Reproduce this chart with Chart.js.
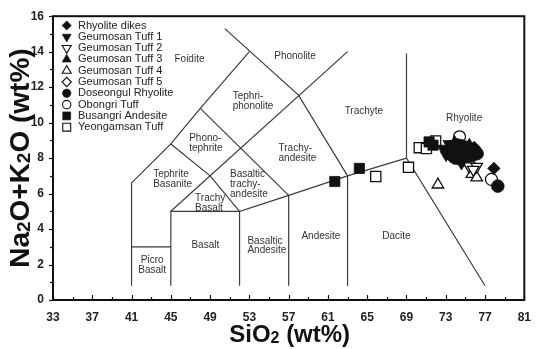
<!DOCTYPE html>
<html>
<head>
<meta charset="utf-8">
<script src="https://cdn.jsdelivr.net/npm/chart.js@4.4.1/dist/chart.umd.min.js"></script>
<style>
  html, body { margin: 0; padding: 0; background: #fff; }
  #wrap { width: 541px; height: 349px; }
</style>
</head>
<body>
<div id="wrap"><canvas id="tas" width="541" height="349"></canvas></div>
<script>
// ---- axis ticks ----
const xTickValues = [33, 37, 41, 45, 49, 53, 57, 61, 65, 69, 73, 77, 81];
const yTickValues = [0, 2, 4, 6, 8, 10, 12, 14, 16];

// ---- TAS field boundaries: [SiO2, Na2O+K2O] ----
const boundaryFoidite      = [[41, 0.8], [41, 6.6], [45, 8.8], [48, 10.8], [53, 14]];
const boundaryTephrite     = [[45, 8.8], [49, 7], [52, 5]];
const boundaryPhonotephrite = [[48, 10.8], [57, 5.9]];
const boundaryTrachybasalt = [[45, 5], [63, 14]];
const boundaryPhonolite    = [[50.5, 15.3], [58, 11.55], [63, 7]];
const boundaryPicrobasalt  = [[41, 3], [45, 3]];
const boundaryBasalt       = [[45, 0.8], [45, 5], [52, 5]];
const boundarySubalkaline  = [[52, 0.8], [52, 5], [57, 5.9], [63, 7], [69, 8]];
const boundaryAndesite     = [[57, 0.8], [57, 5.9]];
const boundaryDacite       = [[63, 0.8], [63, 7]];
const boundaryRhyolite     = [[69, 13.9], [69, 8], [77, 0.8]];

const boundaries = [
  boundaryFoidite, boundaryTephrite, boundaryPhonotephrite, boundaryTrachybasalt,
  boundaryPhonolite, boundaryPicrobasalt, boundaryBasalt, boundarySubalkaline,
  boundaryAndesite, boundaryDacite, boundaryRhyolite
];

// ---- field names: [text, SiO2, Na2O+K2O] ----
const fieldLabels = [
  ['Foidite', 45.37, 13.55],
  ['Phonolite', 55.53, 13.77],
  ['Tephri-', 51.3, 11.51], ['phonolite', 51.3, 10.92],
  ['Trachyte', 62.7, 10.62],
  ['Rhyolite', 73.03, 10.25],
  ['Phono-', 46.87, 9.13], ['tephrite', 46.87, 8.54],
  ['Tephrite', 43.2, 7.11], ['Basanite', 43.2, 6.53],
  ['Basaltic', 51.03, 7.11], ['trachy-', 51.03, 6.53], ['andesite', 51.03, 5.98],
  ['Trachy-', 55.97, 8.54], ['andesite', 55.97, 7.98],
  ['Trachy', 47.47, 5.75], ['Basalt', 47.47, 5.2],
  ['Basalt', 47.1, 3.06],
  ['Basaltic', 52.8, 3.34], ['Andesite', 52.8, 2.78],
  ['Andesite', 58.3, 3.62],
  ['Dacite', 66.53, 3.62]
];
const centeredLabels = [
  ['Picro', 43.1, 2.23], ['Basalt', 43.1, 1.67]
];

// ---- samples: [SiO2, Na2O+K2O] ----
const rhyoliteDikes = [[77.9, 7.42], [73.5, 8.1], [75.9, 8.6]];
const geumosanTuff1 = [[72.7, 8.54], [73.03, 8.17], [74.6, 7.7], [73.3, 8.8]];
const geumosanTuff2 = [[75.37, 7.55], [76.15, 7.52], [75.8, 7.35]];
const geumosanTuff3 = [[73.4, 8.45], [74.9, 8.0], [75.4, 8.75], [73.9, 8.9]];
const geumosanTuff4 = [[72.2, 6.5], [75.65, 7.1], [76.15, 6.9]];
const geumosanTuff5 = [[74.4, 8.5], [75.4, 8.4]];
const doseongulRhyolite = [
  [73.6, 8.65], [74.1, 8.75], [74.6, 8.7], [75.1, 8.6], [75.6, 8.5], [76.0, 8.35],
  [73.7, 8.3], [74.2, 8.35], [74.7, 8.3], [75.2, 8.2], [75.7, 8.15], [76.2, 8.25],
  [74.0, 8.0], [74.5, 7.95], [75.0, 7.9], [78.3, 6.42]
];
const obongriTuff = [[74.4, 9.2], [77.65, 6.8]];
const busangriAndesite = [[61.7, 6.68], [64.2, 7.42], [71.3, 8.91], [71.7, 8.73]];
const yeongamsanTuff = [[65.87, 6.96], [69.2, 7.48], [70.3, 8.59], [71.03, 8.54], [71.97, 8.97]];

const seriesNames = [
  'Rhyolite dikes', 'Geumosan Tuff 1', 'Geumosan Tuff 2', 'Geumosan Tuff 3',
  'Geumosan Tuff 4', 'Geumosan Tuff 5', 'Doseongul Rhyolite', 'Obongri Tuff',
  'Busangri Andesite', 'Yeongamsan Tuff'
];
const seriesValues = [
  rhyoliteDikes, geumosanTuff1, geumosanTuff2, geumosanTuff3, geumosanTuff4,
  geumosanTuff5, doseongulRhyolite, obongriTuff, busangriAndesite, yeongamsanTuff
];

// marker look for each series (same order as seriesNames)
const INK = '#111';
const markerLook = [
  { style: 'rectRot',  r: 6.2, rot: 0,   filled: true,  lr: 4.6, layer: 0 },
  { style: 'triangle', r: 6.6, rot: 180, filled: true,  lr: 5.2, layer: 1 },
  { style: 'triangle', r: 6.6, rot: 180, filled: false, lr: 5.2, layer: 2 },
  { style: 'triangle', r: 6.6, rot: 0,   filled: true,  lr: 5.2, layer: 3 },
  { style: 'triangle', r: 6.6, rot: 0,   filled: false, lr: 5.2, layer: 4 },
  { style: 'rectRot',  r: 6.2, rot: 0,   filled: false, lr: 4.6, layer: 6.5 },
  { style: 'circle',   r: 6.3, rot: 0,   filled: true,  lr: 4.2, layer: 6 },
  { style: 'circle',   r: 6.0, rot: 0,   filled: false, lr: 4.2, layer: 7 },
  { style: 'rect',     r: 7.2, rot: 0,   filled: true,  lr: 5.6, layer: 8 },
  { style: 'rect',     r: 7.2, rot: 0,   filled: false, lr: 5.6, layer: 9 }
];

const FONT = '"Liberation Sans", Arial, Helvetica, sans-serif';

const toXY = arr => arr.map(p => ({ x: p[0], y: p[1] }));

const datasets = [];
seriesNames.forEach((name, i) => {
  const m = markerLook[i];
  datasets.push({
    label: name,
    data: toXY(seriesValues[i]),
    order: m.layer,
    pointStyle: m.style,
    pointRadius: m.r,
    pointHoverRadius: m.r,
    pointRotation: m.rot,
    pointBackgroundColor: m.filled ? INK : '#ffffff',
    pointBorderColor: INK,
    pointBorderWidth: m.filled ? 0.8 : 1.3
  });
});
boundaries.forEach(b => {
  datasets.push({
    label: '',
    data: toXY(b),
    showLine: true,
    fill: false,
    order: 100,
    borderColor: '#3c3c3c',
    borderWidth: 1.2,
    pointRadius: 0,
    pointHoverRadius: 0,
    tension: 0
  });
});

function drawMarker(ctx, style, r, rot, x, y) {
  if (window.Chart && Chart.helpers && Chart.helpers.drawPoint) {
    Chart.helpers.drawPoint(ctx, { pointStyle: style, radius: r, rotation: rot, borderWidth: ctx.lineWidth }, x, y);
    return;
  }
  ctx.beginPath();
  const rad = rot * Math.PI / 180;
  if (style === 'circle') {
    ctx.arc(x, y, r, 0, Math.PI * 2);
  } else if (style === 'rect') {
    const s = Math.SQRT1_2 * r;
    ctx.rect(x - s, y - s, 2 * s, 2 * s);
  } else if (style === 'rectRot') {
    ctx.moveTo(x, y - r); ctx.lineTo(x + r, y); ctx.lineTo(x, y + r); ctx.lineTo(x - r, y); ctx.closePath();
  } else {
    let a = rad;
    for (let k = 0; k < 3; k++) {
      const px = x + Math.sin(a) * r, py = y - Math.cos(a) * r;
      if (k === 0) ctx.moveTo(px, py); else ctx.lineTo(px, py);
      a += Math.PI * 2 / 3;
    }
    ctx.closePath();
  }
  ctx.fill();
  ctx.stroke();
}

// text made of runs with different sizes (for subscripts)
function drawRuns(ctx, runs, cx, baseY) {
  let total = 0;
  runs.forEach(r => { ctx.font = 'bold ' + r.size + 'px ' + FONT; r.w = ctx.measureText(r.t).width; total += r.w; });
  let x = cx - total / 2;
  ctx.textAlign = 'left';
  ctx.textBaseline = 'alphabetic';
  runs.forEach(r => {
    ctx.font = 'bold ' + r.size + 'px ' + FONT;
    ctx.fillText(r.t, x, baseY + (r.dy || 0));
    x += r.w;
  });
}

const decorations = {
  id: 'tasDecorations',
  beforeDatasetsDraw(chart) {
    const ctx = chart.ctx, xs = chart.scales.x, ys = chart.scales.y;
    ctx.save();
    ctx.fillStyle = '#333';
    ctx.font = '10px ' + FONT;
    ctx.textBaseline = 'middle';
    ctx.textAlign = 'left';
    fieldLabels.forEach(l => ctx.fillText(l[0], xs.getPixelForValue(l[1]), ys.getPixelForValue(l[2])));
    ctx.textAlign = 'center';
    centeredLabels.forEach(l => ctx.fillText(l[0], xs.getPixelForValue(l[1]), ys.getPixelForValue(l[2])));
    ctx.restore();
  },
  afterDraw(chart) {
    const ctx = chart.ctx, a = chart.chartArea, xs = chart.scales.x, ys = chart.scales.y;
    ctx.save();
    // frame
    ctx.strokeStyle = '#111';
    ctx.lineWidth = 2;
    ctx.strokeRect(a.left, a.top, a.right - a.left, a.bottom - a.top);
    // x ticks, pointing into the plot
    ctx.lineWidth = 1.2;
    for (let v = 33; v <= 81; v += 2) {
      const px = Math.round(xs.getPixelForValue(v)) + 0.5;
      const len = ((v - 33) % 4 === 0) ? 5 : 3;
      ctx.beginPath(); ctx.moveTo(px, a.bottom); ctx.lineTo(px, a.bottom - len); ctx.stroke();
    }
    // y ticks, pointing out of the plot
    for (let v = 0; v <= 16; v += 1) {
      const py = Math.round(ys.getPixelForValue(v)) + 0.5;
      const len = (v % 2 === 0) ? 4 : 3;
      ctx.beginPath(); ctx.moveTo(a.left, py); ctx.lineTo(a.left - len, py); ctx.stroke();
    }
    // legend
    ctx.font = '11px ' + FONT;
    ctx.textAlign = 'left';
    ctx.textBaseline = 'middle';
    seriesNames.forEach((name, i) => {
      const m = markerLook[i];
      const y = 25.5 + i * 11.3;
      ctx.fillStyle = m.filled ? INK : '#fff';
      ctx.strokeStyle = INK;
      ctx.lineWidth = m.filled ? 0.6 : 1.1;
      drawMarker(ctx, m.style, m.lr, m.rot, 66.7, y);
      ctx.fillStyle = '#222';
      ctx.fillText(name, 78, y);
    });
    // axis titles
    ctx.fillStyle = '#111';
    drawRuns(ctx, [
      { t: 'SiO', size: 24 }, { t: '2', size: 16, dy: 1 }, { t: ' (wt%)', size: 24 }
    ], (a.left + a.right) / 2 + 1, 342);
    ctx.save();
    ctx.translate(29, (a.top + a.bottom) / 2);
    ctx.rotate(-Math.PI / 2);
    drawRuns(ctx, [
      { t: 'Na', size: 28 }, { t: '2', size: 19, dy: 1 }, { t: 'O+K', size: 28 },
      { t: '2', size: 19, dy: 1 }, { t: 'O (wt%)', size: 28 }
    ], 0, 0);
    ctx.restore();
    ctx.restore();
  }
};

new Chart(document.getElementById('tas'), {
  type: 'scatter',
  data: { datasets },
  options: {
    responsive: false,
    animation: false,
    devicePixelRatio: 1,
    layout: { padding: { top: 13, right: 8, left: 0, bottom: 0 } },
    plugins: { legend: { display: false }, tooltip: { enabled: false } },
    scales: {
      x: {
        type: 'linear', min: 33, max: 81,
        grid: { display: false, drawTicks: false },
        border: { display: false },
        ticks: { color: '#222', padding: 10, font: { family: FONT, size: 12, weight: 'bold' } },
        afterBuildTicks: s => { s.ticks = xTickValues.map(v => ({ value: v })); },
        afterFit: s => { s.height = 49; }
      },
      y: {
        type: 'linear', min: 0, max: 16,
        grid: { display: false, drawTicks: false },
        border: { display: false },
        ticks: { color: '#222', padding: 9, font: { family: FONT, size: 12, weight: 'bold' } },
        afterBuildTicks: s => { s.ticks = yTickValues.map(v => ({ value: v })); },
        afterFit: s => { s.width = 53; }
      }
    }
  },
  plugins: [decorations]
});
</script>
</body>
</html>
